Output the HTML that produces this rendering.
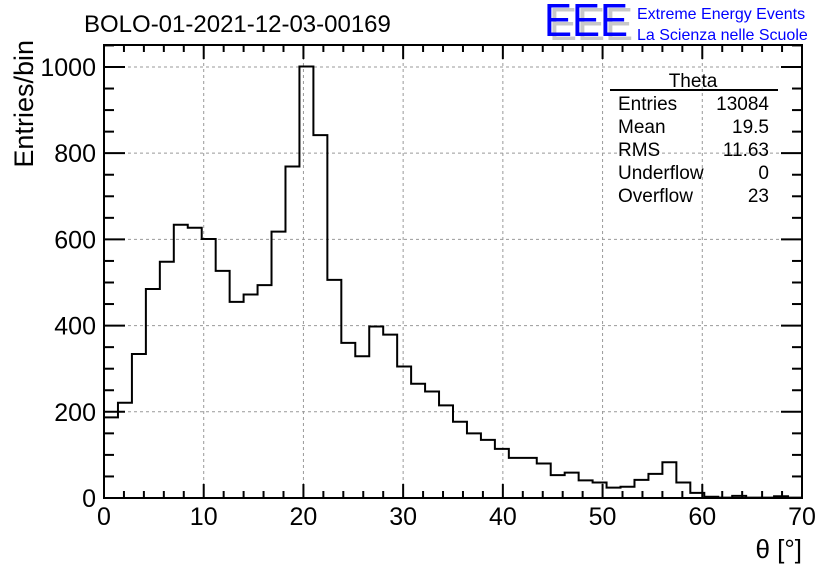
<!DOCTYPE html>
<html><head><meta charset="utf-8"><style>
body{margin:0;background:#fff;}
svg{display:block;font-family:"Liberation Sans",sans-serif;}
</style></head><body>
<svg id="c" width="836" height="572" viewBox="0 0 836 572">
<g id="grid"></g>
<g id="ticks"></g>
<path id="hist" fill="none" stroke="#000" stroke-width="2"/>
<rect x="104" y="45" width="698" height="453" fill="none" stroke="#000" stroke-width="2"/>
<text x="84" y="32" font-size="24">BOLO-01-2021-12-03-00169</text>
<text x="33" y="40" font-size="27" transform="rotate(-90 33 40)" text-anchor="end">Entries/bin</text>
<text x="802" y="558" font-size="26" text-anchor="end">θ [°]</text>
<g>
<text x="549" y="40" font-size="46" fill="#c8c8c8" textLength="84" lengthAdjust="spacingAndGlyphs">EEE</text>
<text x="544" y="36" font-size="46" fill="#0000ff" textLength="84" lengthAdjust="spacingAndGlyphs">EEE</text>
<text x="637" y="19" font-size="16" fill="#0000ff">Extreme Energy Events</text>
<text x="637" y="40" font-size="16" fill="#0000ff">La Scienza nelle Scuole</text>
</g>
<g font-size="19">
<text x="693" y="87" text-anchor="middle">Theta</text>
<line x1="610" y1="90" x2="778" y2="90" stroke="#000" stroke-width="2"/>
<text x="618" y="110">Entries</text><text x="769" y="110" text-anchor="end">13084</text>
<text x="618" y="133">Mean</text><text x="769" y="133" text-anchor="end">19.5</text>
<text x="618" y="156">RMS</text><text x="769" y="156" text-anchor="end">11.63</text>
<text x="618" y="179">Underflow</text><text x="769" y="179" text-anchor="end">0</text>
<text x="618" y="202">Overflow</text><text x="769" y="202" text-anchor="end">23</text>
</g>
</svg>
<script>
const counts=[187,221,334,485,548,634,627,601,527,455,472,494,618,769,1001,842,506,360,329,398,379,305,265,247,215,177,150,135,114,93,93,80,53,59,41,36,24,26,42,56,83,36,12,3,1,5,1,1,4,1];
const binWidth=1.4;
const xTicks=[0,10,20,30,40,50,60,70];
const yTicks=[0,200,400,600,800,1000];
const X0=104,X1=802,Y0=498,Y1=45;
const xMax=70,yMax=1051;
const sx=v=>X0+(X1-X0)*v/xMax;
const sy=v=>Y0-(Y0-Y1)*v/yMax;
const NS="http://www.w3.org/2000/svg";
function mk(tag,attrs,parent){const e=document.createElementNS(NS,tag);for(const k in attrs)e.setAttribute(k,attrs[k]);parent.appendChild(e);return e;}
const grid=document.getElementById('grid'),ticks=document.getElementById('ticks'),svg=document.getElementById('c');
xTicks.slice(1,-1).forEach(t=>{const l=mk('line',{x1:sx(t),x2:sx(t),y1:Y0,y2:Y1,stroke:'#999','stroke-dasharray':'3,3','stroke-width':1},grid);

});
yTicks.slice(1).forEach(t=>{const l=mk('line',{x1:X0,x2:X1,y1:sy(t),y2:sy(t),stroke:'#999','stroke-dasharray':'3,3','stroke-width':1},grid);

});
for(let v=0;v<=xMax;v+=2){const maj=v%10===0;const len=maj?14:7;
mk('line',{x1:sx(v),x2:sx(v),y1:Y0,y2:Y0-len,stroke:'#000','stroke-width':2},ticks);
mk('line',{x1:sx(v),x2:sx(v),y1:Y1,y2:Y1+len,stroke:'#000','stroke-width':2},ticks);}
xTicks.forEach(t=>{const tx=mk('text',{x:sx(t),y:525,'font-size':25,'text-anchor':'middle'},svg);tx.textContent=t;

});
for(let v=0;v<=yMax;v+=50){const maj=v%200===0;const len=maj?21:10;
mk('line',{x1:X0,x2:X0+len,y1:sy(v),y2:sy(v),stroke:'#000','stroke-width':2},ticks);
mk('line',{x1:X1,x2:X1-len,y1:sy(v),y2:sy(v),stroke:'#000','stroke-width':2},ticks);}
yTicks.forEach(t=>{const tx=mk('text',{x:96,y:sy(t)+9,'font-size':25,'text-anchor':'end'},svg);tx.textContent=t;

});
let d='M'+sx(0)+','+sy(0);
counts.forEach((c,i)=>{d+=' L'+sx(i*binWidth)+','+sy(c)+' L'+sx((i+1)*binWidth)+','+sy(c);});
document.getElementById('hist').setAttribute('d',d);
</script>
</body></html>
